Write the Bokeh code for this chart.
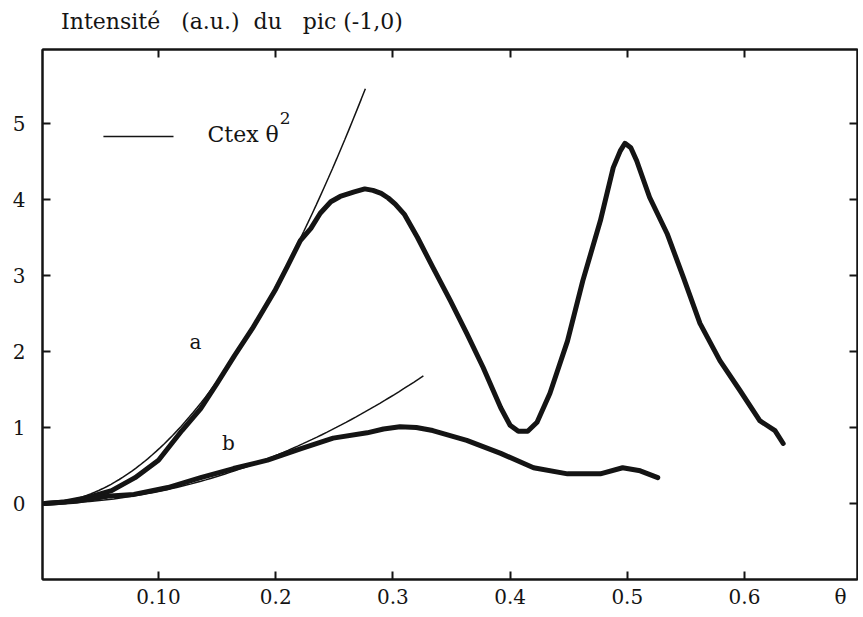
import numpy as np
from bokeh.plotting import figure
from bokeh.models import Range1d, FixedTicker, LinearAxis, Label
from bokeh.embed import file_html
from bokeh.resources import INLINE

# ---- data ----
a_x = [0.003, 0.02, 0.04, 0.06, 0.08, 0.10, 0.12, 0.136, 0.15, 0.165, 0.18, 0.20, 0.21,
       0.221, 0.23, 0.238, 0.247, 0.255, 0.267, 0.276, 0.283, 0.29, 0.296, 0.302, 0.31,
       0.321, 0.334, 0.349, 0.363, 0.377, 0.392, 0.40, 0.407, 0.415, 0.423, 0.434, 0.449,
       0.462, 0.477, 0.488, 0.494, 0.498, 0.503, 0.508, 0.519, 0.534, 0.548, 0.562, 0.579,
       0.596, 0.613, 0.626, 0.633]
a_y = [0.0, 0.02, 0.08, 0.17, 0.34, 0.57, 0.96, 1.25, 1.58, 1.95, 2.30, 2.82, 3.12,
       3.46, 3.62, 3.82, 3.97, 4.04, 4.10, 4.14, 4.12, 4.08, 4.02, 3.94, 3.80,
       3.50, 3.11, 2.67, 2.24, 1.79, 1.26, 1.03, 0.95, 0.95, 1.07, 1.45, 2.14,
       2.93, 3.72, 4.42, 4.64, 4.74, 4.68, 4.51, 4.03, 3.55, 2.97, 2.37, 1.88,
       1.49, 1.09, 0.96, 0.79]

b_x = [0.003, 0.03, 0.059, 0.079, 0.108, 0.136, 0.164, 0.193, 0.221, 0.249, 0.278,
       0.292, 0.306, 0.32, 0.334, 0.363, 0.392, 0.42, 0.449, 0.477, 0.496, 0.511, 0.526]
b_y = [0.0, 0.03, 0.10, 0.12, 0.21, 0.34, 0.46, 0.57, 0.72, 0.86, 0.93,
       0.98, 1.01, 1.00, 0.96, 0.83, 0.66, 0.47, 0.39, 0.39, 0.47, 0.43, 0.34]

# Ctex * theta^2 fits
C_a, theta_end_a = 71.4, 0.2765
C_b, theta_end_b = 15.8, 0.326

x_ticks = [0.1, 0.2, 0.3, 0.4, 0.5, 0.6]
x_tick_labels = ["0.10", "0.2", "0.3", "0.4", "0.5", "0.6"]
theta_pos = 0.682
y_ticks = [0, 1, 2, 3, 4, 5]
y_tick_labels = ["0", "1", "2", "3", "4", "5"]

NB = "\u00a0"
title_text = "Intensité" + NB * 3 + "(a.u.)" + NB * 2 + "du" + NB * 3 + "pic" + NB + "(-1,0)"
title_pos = 0.1627

X0 = 0.00102
X1 = X0 + 815 / 1172
Y0, Y1 = -1.0, 5.974

FONT = "DejaVu Serif"
INK = "#141414"

p = figure(width=858, height=615, output_backend="svg", toolbar_location=None,
           x_range=Range1d(X0, X1), y_range=Range1d(Y0, Y1),
           min_border_left=42, min_border_right=1, min_border_top=49, min_border_bottom=36,
           x_axis_location=None, y_axis_location=None)
p.background_fill_color = "white"
p.border_fill_color = "white"
p.xgrid.visible = False
p.ygrid.visible = False
p.outline_line_color = INK
p.outline_line_width = 2


def make_axis(ticks, labels, show_labels, show_ticks=True, size="20px"):
    ax = LinearAxis(ticker=FixedTicker(ticks=ticks))
    ax.major_label_overrides = {t: l for t, l in zip(ticks, labels)}
    ax.axis_line_color = INK if show_ticks else None
    ax.axis_line_width = 2
    ax.major_tick_line_color = INK if show_ticks else None
    ax.major_tick_line_width = 2
    ax.major_tick_in = 8 if show_ticks else 0
    ax.major_tick_out = 0
    ax.minor_tick_line_color = None
    ax.major_label_text_font = FONT
    ax.major_label_text_font_size = size
    ax.major_label_text_color = INK
    ax.major_label_standoff = 0
    if not show_labels:
        ax.major_label_text_font_size = "0px"
        ax.major_label_text_color = None
    return ax

# bottom: ticks on one axis, labels (with theta) on a second one
bx = make_axis(x_ticks, x_tick_labels, False)
p.add_layout(bx, "below")
bl = make_axis(x_ticks + [theta_pos], x_tick_labels + ["θ"], True, show_ticks=False)
bl.major_label_standoff = 5
p.add_layout(bl, "below")

# top: ticks, then the heading as a single label
tx = make_axis(x_ticks, x_tick_labels, False)
p.add_layout(tx, "above")
tt = make_axis([title_pos], [title_text], True, show_ticks=False, size="22px")
tt.major_label_standoff = 16
p.add_layout(tt, "above")

ly = make_axis(y_ticks, y_tick_labels, True)
ly.major_label_standoff = 17
p.add_layout(ly, "left")
ry = make_axis(y_ticks, y_tick_labels, False)
p.add_layout(ry, "right")

# fitted parabolas (thin)
xa = np.linspace(0.0, theta_end_a, 80)
p.line(xa, C_a * xa ** 2, line_color=INK, line_width=1.5)
xb = np.linspace(0.0, theta_end_b, 80)
p.line(xb, C_b * xb ** 2, line_color=INK, line_width=1.5)

# measured curves (thick)
p.line(a_x, a_y, line_color=INK, line_width=5, line_join="round", line_cap="round")
p.line(b_x, b_y, line_color=INK, line_width=5, line_join="round", line_cap="round")

# legend
p.line([0.053, 0.1128], [4.83, 4.83], line_color=INK, line_width=1.5)
p.add_layout(Label(x=0.1418, y=4.86, text="Ctex θ", text_font=FONT, text_font_size="22px",
                   text_color=INK, text_baseline="middle"))
p.add_layout(Label(x=0.2035, y=5.07, text="2", text_font=FONT, text_font_size="17px",
                   text_color=INK, text_baseline="middle"))

# curve labels
p.add_layout(Label(x=0.1316, y=2.12, text="a", text_font=FONT, text_font_size="20px",
                   text_color=INK, text_baseline="middle", text_align="center"))
p.add_layout(Label(x=0.1597, y=0.79, text="b", text_font=FONT, text_font_size="20px",
                   text_color=INK, text_baseline="middle", text_align="center"))

open("out.html", "w").write(file_html(p, INLINE))
